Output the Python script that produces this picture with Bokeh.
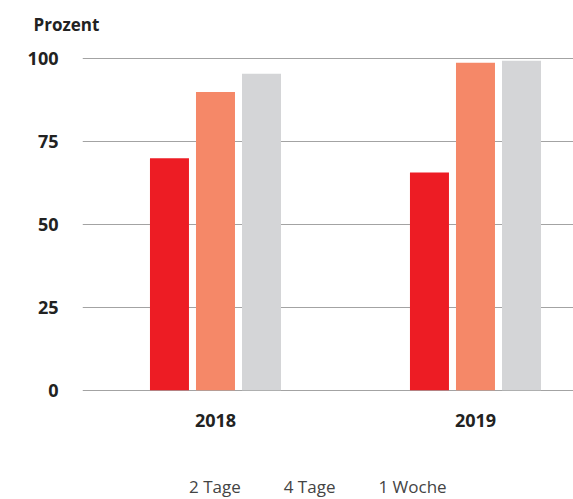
from bokeh.plotting import figure
from bokeh.layouts import column
from bokeh.models import ColumnDataSource, Range1d, FixedTicker, Legend, LegendItem
from bokeh.transform import dodge
from bokeh.embed import file_html
from bokeh.resources import INLINE

years = ["2018", "2019"]
tage2 = [70.0, 65.7]
tage4 = [90.0, 98.8]
woche1 = [95.5, 99.4]
series_names = ["2 Tage", "4 Tage", "1 Woche"]
colors = ["#ED1C24", "#F58868", "#D4D5D7"]
y_ticks = [0, 25, 50, 75, 100]

x_idx = list(range(len(years)))
source = ColumnDataSource(dict(x=x_idx, tage2=tage2, tage4=tage4, woche1=woche1))

p = figure(width=573, height=455,
           x_range=Range1d(-0.5115, 1.377), y_range=Range1d(-1, 104),
           output_backend="svg", toolbar_location=None,
           min_border_left=82, min_border_right=0, min_border_top=45, min_border_bottom=62)

p.outline_line_color = None
p.background_fill_color = "white"
p.border_fill_color = "white"
p.xgrid.visible = False
p.ygrid.ticker = FixedTicker(ticks=y_ticks)
p.ygrid.grid_line_color = "#A3A3A3"
p.ygrid.grid_line_width = 1

bw = 0.15
off = 0.177
p.vbar(x=dodge("x", -off), top="tage2", width=bw, source=source, color=colors[0], line_color=None)
p.vbar(x=dodge("x", 0), top="tage4", width=bw, source=source, color=colors[1], line_color=None)
p.vbar(x=dodge("x", off), top="woche1", width=bw, source=source, color=colors[2], line_color=None)

for ax in (p.xaxis[0], p.yaxis[0]):
    ax.axis_line_color = None
    ax.major_tick_line_color = None
    ax.minor_tick_line_color = None
    ax.major_label_text_font = "Open Sans"
    ax.major_label_text_font_style = "bold"
    ax.major_label_text_font_size = "18px"
    ax.major_label_text_color = "#222222"

p.yaxis.ticker = FixedTicker(ticks=y_ticks)
p.yaxis.major_label_standoff = 18
p.xaxis.ticker = FixedTicker(ticks=x_idx)
p.xaxis.major_label_overrides = {i: y for i, y in zip(x_idx, years)}
p.xaxis.major_label_standoff = 14

p.title.text = "Prozent"
p.title.text_font = "Open Sans"
p.title.text_font_style = "bold"
p.title.text_font_size = "17px"
p.title.text_color = "#222222"
p.title.align = "left"
p.title.offset = -49
p.title.standoff = 19

# Legend strip below the chart
p2 = figure(width=573, height=44, x_axis_type=None, y_axis_type=None,
            x_range=Range1d(0, 1), y_range=Range1d(0, 1),
            output_backend="svg", toolbar_location=None,
            min_border_left=0, min_border_right=0, min_border_top=0, min_border_bottom=0)
p2.outline_line_color = None
p2.grid.visible = False
p2.background_fill_color = "white"
p2.border_fill_color = "white"
leg_renderers = [p2.vbar(x=[], top=[], width=0.1, color=c, line_color=None) for c in colors]

legend = Legend(items=[LegendItem(label=n, renderers=[r]) for n, r in zip(series_names, leg_renderers)],
                orientation="horizontal", location=(84, 1),
                glyph_width=14, glyph_height=14, label_standoff=9, spacing=20,
                padding=0, margin=0, border_line_color=None, background_fill_alpha=0,
                label_text_font="Open Sans", label_text_font_size="17px", label_text_color="#444444")
p2.add_layout(legend)

layout = column(p, p2, spacing=0)
open("out.html", "w").write(file_html(layout, INLINE))
